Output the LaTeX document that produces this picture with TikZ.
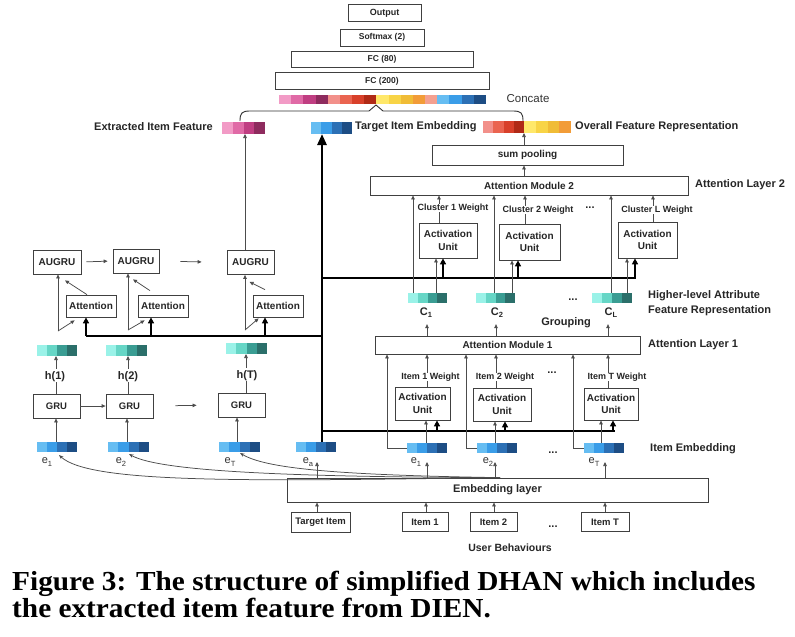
\documentclass[tikz,border=0pt]{standalone}
\usepackage{fontspec}
\setsansfont{Liberation Sans}
\newfontfamily\capfont{Liberation Serif}
\usetikzlibrary{arrows.meta,calc}
\definecolor{p1}{HTML}{F29BC6}
\definecolor{p2}{HTML}{E06AA6}
\definecolor{p3}{HTML}{C03E82}
\definecolor{p4}{HTML}{8E2B5E}
\definecolor{r1}{HTML}{F2908A}
\definecolor{r2}{HTML}{EA6450}
\definecolor{r3}{HTML}{D8402A}
\definecolor{r4}{HTML}{B02A16}
\definecolor{y1}{HTML}{FFE86A}
\definecolor{y2}{HTML}{F8D446}
\definecolor{y3}{HTML}{F0BC36}
\definecolor{y4}{HTML}{F29C38}
\definecolor{pc}{HTML}{F4A090}
\definecolor{b1}{HTML}{66BDF2}
\definecolor{b2}{HTML}{3A9DE8}
\definecolor{b3}{HTML}{2C70B5}
\definecolor{b4}{HTML}{1D4D84}
\definecolor{t1}{HTML}{9AF2E8}
\definecolor{t2}{HTML}{66D6C6}
\definecolor{t3}{HTML}{3A9D93}
\definecolor{t4}{HTML}{2B6F6A}
\newcommand{\fb}[1]{\sffamily\bfseries\fontsize{#1}{#1}\selectfont}
\newcommand{\fr}[1]{\sffamily\fontsize{#1}{#1}\selectfont}
\newcommand{\lsub}[1]{\raisebox{-0.2em}{\fontsize{7.5}{7.5}\selectfont #1}}
% name, x, ytop, width, height, ncells, colours
\newcommand{\cbar}[7]{%
  \node[inner sep=0pt,outer sep=0pt,anchor=north west,minimum width=#4,minimum height=#5] (#1) at (#2,#3) {};
  \foreach \cc [count=\ii from 0] in {#7} {\fill[\cc] ({#2+\ii*#4/#6},#3) rectangle ({#2+(\ii+1)*#4/#6},{#3+#5});}
}
\begin{document}
\begin{tikzpicture}[x=1pt,y=-1pt,
  box/.style={draw=black!75,line width=0.75pt,fill=white,inner sep=0pt,align=center,text=black!85,font=\fb{10}},
  aubox/.style={box,font=\sffamily\bfseries\fontsize{10}{12.5}\selectfont},
  lbl/.style={inner sep=0pt,text=black!85,font=\fb{11}},
  wlbl/.style={inner sep=0pt,text=black!85,font=\fb{9}},
  elbl/.style={inner sep=0pt,text=black!80,font=\fr{11}},
  ln/.style={draw=black!70,line width=0.75pt},
  arr/.style={ln,-{Triangle[length=4pt,width=3.5pt]}},
  thk/.style={draw=black,line width=2.6pt},
  tarr/.style={thk,-{Triangle[length=6pt,width=6pt]}},
  bigarr/.style={thk,-{Triangle[length=11pt,width=9pt]}},
]
\useasboundingbox[fill=white] (0,0) rectangle (795,637);

% ---------- top stack ----------
\node[box,font=\fb{9},minimum width=73,minimum height=17] (out) at (384.5,13) {Output};
\node[box,font=\fb{8.5},minimum width=84,minimum height=17] (soft) at (382,37.5) {Softmax (2)};
\node[box,font=\fb{8.5},minimum width=182,minimum height=16] (fc80) at (382,59.5) {FC (80)};
\node[box,font=\fb{8.5},minimum width=214,minimum height=17] (fc200) at (382,81) {FC (200)};
\cbar{topbar}{279}{95}{207}{9}{17}{p1,p2,p3,p4,r1,r2,r3,r4,y1,y2,y3,y4,pc,b1,b2,b3,b4}
\draw[ln,line width=0.9pt,black!80] (240,121) .. controls (240,113) and (242,111) .. (250,111) -- (369,111) -- (376,105) -- (383,111) -- (513,111) .. controls (521,111) and (523,113) .. (523,121);
\node[inner sep=0pt,font=\fr{11.5},text=black!80] (concate) at (528,99) {Concate};

% ---------- feature row ----------
\node[lbl,anchor=east] (eif) at (213,127) {Extracted Item Feature};
\cbar{pink}{222}{122}{43}{12}{4}{p1,p2,p3,p4}
\cbar{tgt}{311}{122}{41}{12}{4}{b1,b2,b3,b4}
\node[lbl,anchor=west] (tie) at (355,127) {Target Item Embedding};
\cbar{ovr}{483}{121}{41}{12}{4}{r1,r2,r3,r4}
\cbar{ovy}{524}{121}{47}{12}{4}{y1,y2,y3,y4}
\node[lbl,anchor=west] (ofr) at (575,127) {Overall Feature Representation};

% ---------- attention layer 2 ----------
\node[box,minimum width=191,minimum height=20] (sump) at (527.5,155) {sum pooling};
\node[box,minimum width=318,minimum height=19] (am2) at (529,185.5) {Attention Module 2};
\node[lbl,anchor=west] (al2) at (695,185) {Attention Layer 2};
\draw[arr] (sump.north -| ovr.south east) -- (ovr.south east);
\draw[arr] (am2.north -| 524,0) -- (sump.south -| 524,0);

\node[aubox,minimum width=58,minimum height=35] (au21) at (448,240.5) {Activation\\Unit};
\node[aubox,minimum width=61,minimum height=36] (au22) at (529.5,242) {Activation\\Unit};
\node[aubox,minimum width=59,minimum height=36] (au2L) at (647.5,240) {Activation\\Unit};
\node[wlbl] (w21) at (453,208) {Cluster 1 Weight};
\node[wlbl] (w22) at (538,210) {Cluster 2 Weight};
\node[wlbl] (w2L) at (657,210) {Cluster L Weight};
\node[lbl] (d21) at (590,208) {...};
\draw[ln] (au21.north -| 439,0) -- (w21.south -| 439,0);
\draw[arr] (w21.north -| 439,0) -- (am2.south -| 439,0);
\draw[ln] (au22.north -| 525,0) -- (w22.south -| 525,0);
\draw[arr] (w22.north -| 525,0) -- (am2.south -| 525,0);
\draw[ln] (au2L.north -| 653,0) -- (w2L.south -| 653,0);
\draw[arr] (w2L.north -| 653,0) -- (am2.south -| 653,0);

\cbar{c1}{408}{293}{39}{10}{4}{t1,t2,t3,t4}
\cbar{c2}{476}{293}{39}{10}{4}{t1,t2,t3,t4}
\cbar{cL}{592}{293}{40}{10}{4}{t1,t2,t3,t4}
\node[lbl] (c1l) at (426,313) {C\lsub{1}};
\node[lbl] (c2l) at (497,313) {C\lsub{2}};
\node[lbl] (cLl) at (611,313) {C\lsub{L}};
\node[lbl] (d22) at (573,300) {...};
\node[lbl] (grp) at (566,323) {Grouping};
\node[lbl,anchor=west] (hla) at (648,296) {Higher-level Attribute};
\node[lbl,anchor=west] (hlb) at (648,311) {Feature Representation};

\coordinate (j2) at (322,278);
\draw[thk] (j2) -- (j2 -| 636,0);
\draw[arr] (c1.north -| 413,0) -- (am2.south -| 413,0);
\draw[arr] (c2.north -| 494,0) -- (am2.south -| 494,0);
\draw[arr] (cL.north -| 611,0) -- (am2.south -| 611,0);
\draw[arr] (c1.north -| 436,0) -- (au21.south -| 436,0);
\draw[arr] (c2.north -| 512,0) -- (au22.south -| 512,0);
\draw[arr] (cL.north -| 627,0) -- (au2L.south -| 627,0);
\draw[tarr] (j2 -| 443,0) -- (au21.south -| 443,0);
\draw[tarr] (j2 -| 518,0) -- (au22.south -| 518,0);
\draw[tarr] (j2 -| 635,0) -- (au2L.south -| 635,0);

% ---------- attention layer 1 ----------
\node[box,minimum width=265,minimum height=18] (am1) at (507.5,345) {Attention Module 1};
\node[lbl,anchor=west] (al1) at (648,345) {Attention Layer 1};
\draw[arr] (am1.north -| 427,0) -- ([yshift=-6pt]c1l.south -| 427,0);
\draw[arr] (am1.north -| 496,0) -- ([yshift=-6pt]c2l.south -| 496,0);
\draw[arr] (am1.north -| 608,0) -- ([yshift=-6pt]cLl.south -| 608,0);

\node[aubox,minimum width=55,minimum height=33] (au11) at (422.5,403.5) {Activation\\Unit};
\node[aubox,minimum width=58,minimum height=33] (au12) at (502,404.5) {Activation\\Unit};
\node[aubox,minimum width=54,minimum height=32] (au1T) at (611,404) {Activation\\Unit};
\node[wlbl] (w11) at (430.5,377) {Item 1 Weight};
\node[wlbl] (w12) at (505,377) {Item 2 Weight};
\node[wlbl] (w1T) at (617,377) {Item T Weight};
\node[lbl] (d11) at (552,373) {...};
\draw[ln] (au11.north -| 427,0) -- (w11.south -| 427,0);
\draw[arr] (w11.north -| 427,0) -- (am1.south -| 427,0);
\draw[ln] (au12.north -| 496,0) -- (w12.south -| 496,0);
\draw[arr] (w12.north -| 496,0) -- (am1.south -| 496,0);
\draw[ln] (au1T.north -| 608,0) -- (w1T.south -| 608,0);
\draw[arr] (w1T.north -| 608,0) -- (am1.south -| 608,0);

\cbar{e1r}{407}{443}{40}{10}{4}{b1,b2,b3,b4}
\cbar{e2r}{477}{443}{40}{10}{4}{b1,b2,b3,b4}
\cbar{eTr}{584}{443}{40}{10}{4}{b1,b2,b3,b4}
\coordinate (j1) at (322,431);
\draw[thk] (j1) -- (j1 -| 615,0);
\draw[arr] (e1r.west) -- (e1r.west -| 387,0) -- (am1.south -| 387,0);
\draw[arr] (e2r.west) -- (e2r.west -| 466,0) -- (am1.south -| 466,0);
\draw[arr] (eTr.west) -- (eTr.west -| 573,0) -- (am1.south -| 573,0);
\draw[arr] (e1r.north -| 426,0) -- (au11.south -| 426,0);
\draw[arr] (e2r.north -| 495,0) -- (au12.south -| 495,0);
\draw[arr] (eTr.north -| 601,0) -- (au1T.south -| 601,0);
\draw[tarr] (j1 -| 437,0) -- (au11.south -| 437,0);
\draw[tarr] (j1 -| 505,0) -- (au12.south -| 505,0);
\draw[tarr] (j1 -| 613,0) -- (au1T.south -| 613,0);
\node[elbl] (el1r) at (416,462) {e\lsub{1}};
\node[elbl] (el2r) at (488,462) {e\lsub{2}};
\node[elbl] (elTr) at (594,462) {e\lsub{T}};
\node[lbl] (d12) at (553,453) {...};
\node[lbl,anchor=west] (iemb) at (650,449) {Item Embedding};

% ---------- embedding layer & inputs ----------
\node[box,font=\fb{11},minimum width=421,minimum height=24] (emb) at (497.5,490) {Embedding layer};
\node[box,font=\fb{9.5},minimum width=59,minimum height=20] (ti) at (320.5,522) {Target Item};
\node[box,font=\fb{9.5},minimum width=46,minimum height=19] (it1) at (425,522) {Item 1};
\node[box,font=\fb{9.5},minimum width=47,minimum height=19] (it2) at (493.5,522) {Item 2};
\node[box,font=\fb{9.5},minimum width=48,minimum height=19] (itT) at (605,522) {Item T};
\node[lbl] (d31) at (553,527) {...};
\node[lbl,font=\fb{10.5}] (ub) at (510,548) {User Behaviours};
\draw[arr] (ti.north -| 317,0) -- (emb.south -| 317,0);
\draw[arr] (it1.north -| 426,0) -- (emb.south -| 426,0);
\draw[arr] (it2.north -| 494,0) -- (emb.south -| 494,0);
\draw[arr] (itT.north -| 605,0) -- (emb.south -| 605,0);

% ---------- left (DIEN) part ----------
\node[box,minimum width=48,minimum height=24] (augru1) at (57,262) {AUGRU};
\node[box,minimum width=46,minimum height=24] (augru2) at (136,261) {AUGRU};
\node[box,minimum width=47,minimum height=24] (augru3) at (250.5,262.5) {AUGRU};
\node[box,minimum width=50,minimum height=22] (att1) at (91,306) {Attention};
\node[box,minimum width=50,minimum height=22] (att2) at (163,306) {Attention};
\node[box,minimum width=50,minimum height=22] (att3) at (278,306) {Attention};
\node[box,font=\fb{9.5},minimum width=47,minimum height=24] (gru1) at (56.5,406) {GRU};
\node[box,font=\fb{9.5},minimum width=47,minimum height=24] (gru2) at (129.5,406) {GRU};
\node[box,font=\fb{9.5},minimum width=47,minimum height=24] (gru3) at (241.5,405) {GRU};
\cbar{hb1}{37}{345}{40}{11}{4}{t1,t2,t3,t4}
\cbar{hb2}{106}{345}{41}{11}{4}{t1,t2,t3,t4}
\cbar{hbT}{226}{343}{41}{11}{4}{t1,t2,t3,t4}
\node[lbl] (hl1) at (55,377) {h(1)};
\node[lbl] (hl2) at (128,377) {h(2)};
\node[lbl] (hlT) at (247,376) {h(T)};
\cbar{eb1}{37}{442}{40}{10}{4}{b1,b2,b3,b4}
\cbar{eb2}{108}{442}{41}{10}{4}{b1,b2,b3,b4}
\cbar{ebT}{219}{442}{41}{10}{4}{b1,b2,b3,b4}
\cbar{eba}{296}{442}{40}{10}{4}{b1,b2,b3,b4}
\node[elbl] (el1) at (47,462) {e\lsub{1}};
\node[elbl] (el2) at (121,462) {e\lsub{2}};
\node[elbl] (elT) at (230,462) {e\lsub{T}};
\node[elbl] (ela) at (308,462) {e\lsub{a}};

% AUGRU chain
\draw[arr,shorten <=5pt,shorten >=5pt] (augru1.east) -- (augru2.west);
\draw[arr,shorten <=21pt,shorten >=25pt] (augru2.east) -- (augru3.west);
% GRU chain
\draw[arr] (gru1.east) -- (gru2.west);
\draw[arr,shorten <=22pt,shorten >=21pt] (gru2.east) -- (gru3.west);
% e -> GRU
\draw[arr] (eb1.north -| 56,0) -- (gru1.south -| 56,0);
\draw[arr] (eb2.north -| 127,0) -- (gru2.south -| 127,0);
\draw[arr] (ebT.north -| 237,0) -- (gru3.south -| 237,0);
% GRU -> h
\draw[ln] (gru1.north -| 56,0) -- (hl1.south -| 56,0);
\draw[arr,shorten <=3pt] (hl1.north -| 56,0) -- (hb1.south -| 56,0);
\draw[ln] (gru2.north -| 128,0) -- (hl2.south -| 128,0);
\draw[arr,shorten <=3pt] (hl2.north -| 128,0) -- (hb2.south -| 128,0);
\draw[ln] (gru3.north -| 246,0) -- (hlT.south -| 246,0);
\draw[arr,shorten <=3pt] (hlT.north -| 246,0) -- (hbT.south -| 246,0);
% attention into AUGRU
\coordinate (v1) at (58,331);
\coordinate (v2) at (128,330);
\coordinate (v3) at (245,330);
\draw[arr] (v1) -- (augru1.south -| v1);
\draw[arr] (v2) -- (augru2.south -| v2);
\draw[arr] (v3) -- (augru3.south -| v3);
\draw[arr] (v1) -- ([xshift=9pt,yshift=-3pt]att1.south west);
\draw[arr] (v2) -- ([xshift=7pt,yshift=-3pt]att2.south west);
\draw[arr] (v3) -- ([xshift=6pt,yshift=-1pt]att3.south west);
\draw[arr] ([xshift=-4pt]att1.north) -- ([xshift=8pt,yshift=-6pt]augru1.south);
\draw[arr] ([xshift=-13pt,yshift=4pt]att2.north) -- ([xshift=-3pt,yshift=-6pt]augru2.south);
\draw[arr] ([xshift=-13pt,yshift=5pt]att3.north) -- ([xshift=-1pt,yshift=-7pt]augru3.south);
\coordinate (j3) at (322,336);
\draw[thk] (j3) -- (j3 -| 86,0);
\draw[tarr] (j3 -| 86,0) -- (att1.south -| 86,0);
\draw[tarr] (j3 -| 151,0) -- (att2.south -| 151,0);
\draw[tarr] (j3 -| 265,0) -- (att3.south -| 265,0);
% AUGRU(T) -> extracted feature
\draw[arr] (augru3.north -| 245,0) -- (pink.south -| 245,0);
% target embedding thick line
\draw[bigarr] (eba.north -| 322,0) -- (tgt.south -| 322,0);

% embedding layer -> embeddings
\draw[arr] (emb.north -| 317,0) -- (ela.center -| 317,0);
\draw[arr] (emb.north -| 427,0) -- (el1r.center -| 427,0);
\draw[arr] (emb.north -| 495,0) -- (el2r.center -| 495,0);
\draw[arr] (emb.north -| 605,0) -- (elTr.center -| 605,0);
\draw[ln,-{Stealth[length=4.5pt,width=3.5pt]}] (emb.north -| 500,0) .. controls (250,481) and (90,484) .. ([xshift=12pt,yshift=7pt]el1.center);
\draw[ln,-{Stealth[length=4.5pt,width=3.5pt]}] (emb.north -| 500,0) .. controls (300,477) and (160,472) .. ([xshift=8pt,yshift=8pt]el2.center);
\draw[ln,-{Stealth[length=4.5pt,width=3.5pt]}] (emb.north -| 500,0) .. controls (330,475) and (265,468) .. ([xshift=10pt,yshift=9pt]elT.center);

% ---------- caption ----------
\node[anchor=base west,inner sep=0pt,xscale=1.065,font=\capfont\bfseries\fontsize{27.5}{30}\selectfont] (cap1) at (12,590) {Figure 3: The structure of simplified DHAN which includes};
\node[anchor=base west,inner sep=0pt,xscale=1.065,font=\capfont\bfseries\fontsize{27.5}{30}\selectfont] (cap2) at (12,617) {the extracted item feature from DIEN.};
\end{tikzpicture}
\end{document}
